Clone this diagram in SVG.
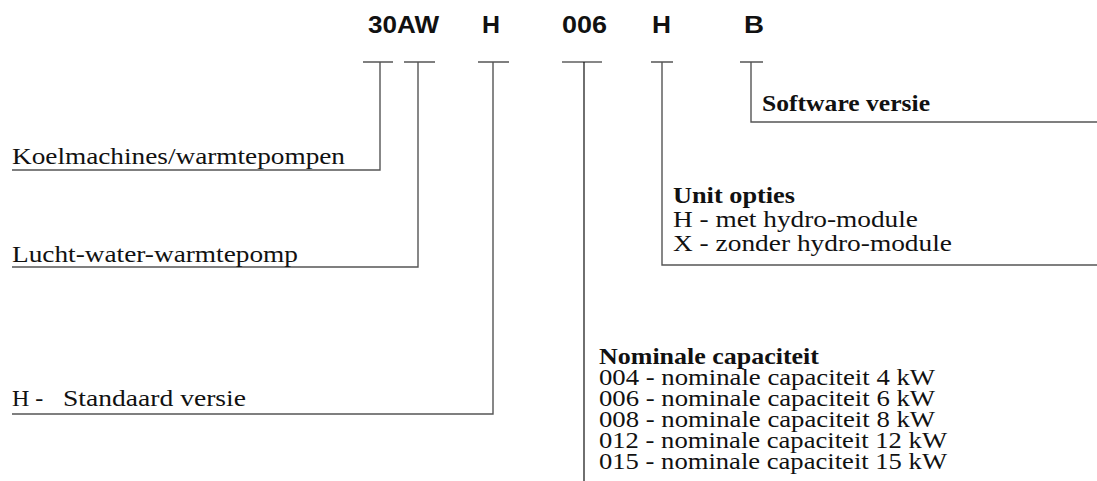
<svg xmlns="http://www.w3.org/2000/svg" width="1097" height="481" viewBox="0 0 1097 481">
<style>
.code{font-family:"Liberation Sans",Arial,sans-serif;font-weight:bold;font-size:24px;fill:#111}
.t{font-family:"Liberation Serif","Times New Roman",serif;font-size:24px;fill:#111}
.b{font-weight:bold}
.ln{stroke:#555;stroke-width:1.4;fill:none}
.dk{stroke:#111;stroke-width:1.2;fill:none}
</style>
<rect width="1097" height="481" fill="#fff"/>
<g id="codes">
<text class="code" x="368" y="33" textLength="71" lengthAdjust="spacingAndGlyphs">30AW</text>
<text class="code" x="482" y="33" textLength="18" lengthAdjust="spacingAndGlyphs">H</text>
<text class="code" x="562" y="33" textLength="45" lengthAdjust="spacingAndGlyphs">006</text>
<text class="code" x="652" y="33" textLength="19" lengthAdjust="spacingAndGlyphs">H</text>
<text class="code" x="744" y="33" textLength="20" lengthAdjust="spacingAndGlyphs">B</text>
</g>
<g id="connectors">
<path class="ln" d="M363 62H393M380 62V170H12"/>
<path class="ln" d="M404 62H435M418 62V267H12"/>
<path class="ln" d="M478 62H509M493 62V414H12"/>
<path class="dk" d="M562 62H602M584 62V481"/>
<path class="ln" d="M651 62H673M662 62V265H1097"/>
<path class="ln" d="M740 62H763M751 62V122H1097"/>
</g>
<g id="n-koel"><text class="t" x="12" y="164" textLength="333" lengthAdjust="spacingAndGlyphs">Koelmachines/warmtepompen</text></g>
<g id="n-lucht"><text class="t" x="12" y="262" textLength="286" lengthAdjust="spacingAndGlyphs">Lucht-water-warmtepomp</text></g>
<g id="n-std"><text class="t" x="12" y="406">H -</text><text class="t" x="63" y="406" textLength="183" lengthAdjust="spacingAndGlyphs">Standaard versie</text></g>
<g id="n-soft"><text class="t b" x="762" y="111" textLength="168" lengthAdjust="spacingAndGlyphs">Software versie</text></g>
<g id="n-unit">
<text class="t b" x="673" y="203" textLength="122" lengthAdjust="spacingAndGlyphs">Unit opties</text>
<text class="t" x="673" y="227" textLength="245" lengthAdjust="spacingAndGlyphs">H - met hydro-module</text>
<text class="t" x="673" y="251" textLength="279" lengthAdjust="spacingAndGlyphs">X - zonder hydro-module</text>
</g>
<g id="n-nom">
<text class="t b" x="599" y="364" textLength="220" lengthAdjust="spacingAndGlyphs">Nominale capaciteit</text>
<text class="t" x="599" y="385" textLength="336" lengthAdjust="spacingAndGlyphs">004 - nominale capaciteit 4 kW</text>
<text class="t" x="599" y="406" textLength="336" lengthAdjust="spacingAndGlyphs">006 - nominale capaciteit 6 kW</text>
<text class="t" x="599" y="427" textLength="336" lengthAdjust="spacingAndGlyphs">008 - nominale capaciteit 8 kW</text>
<text class="t" x="599" y="448" textLength="348" lengthAdjust="spacingAndGlyphs">012 - nominale capaciteit 12 kW</text>
<text class="t" x="599" y="469" textLength="348" lengthAdjust="spacingAndGlyphs">015 - nominale capaciteit 15 kW</text>
</g>
</svg>
